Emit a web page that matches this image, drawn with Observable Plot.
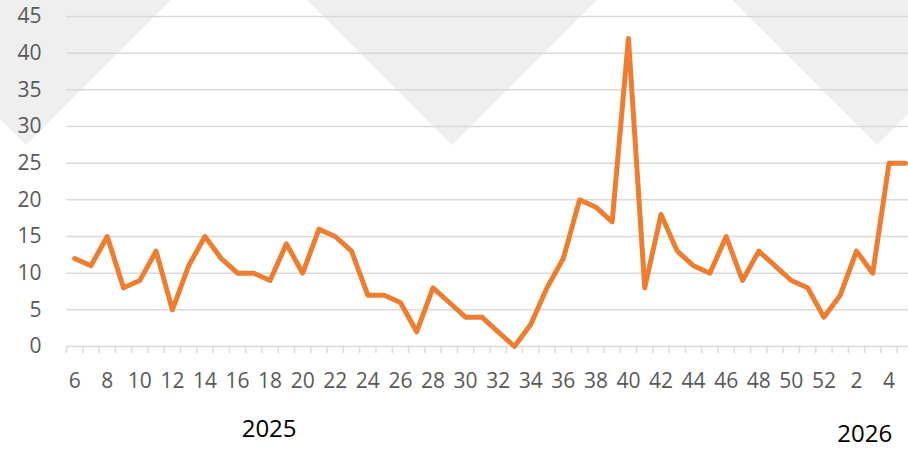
<!DOCTYPE html>
<html>
<head>
<meta charset="utf-8">
<script src="https://cdn.jsdelivr.net/npm/d3@7"></script>
<script src="https://cdn.jsdelivr.net/npm/@observablehq/plot@0.6"></script>
<style>
  html, body { margin: 0; padding: 0; background: #fff; }
  #chart { width: 908px; height: 451px; overflow: hidden; position: relative; background-repeat: no-repeat; }
</style>
</head>
<body>
<div id="chart"></div>
<script>
// Week numbers (ISO weeks): 2025 week 6 .. 52, then 2026 week 1 .. 5
const weeks = [6,7,8,9,10,11,12,13,14,15,16,17,18,19,20,21,22,23,24,25,26,27,28,29,30,31,32,33,34,35,36,37,38,39,40,41,42,43,44,45,46,47,48,49,50,51,52,1,2,3,4,5];
const years = ["2025","2025","2025","2025","2025","2025","2025","2025","2025","2025","2025","2025","2025","2025","2025","2025","2025","2025","2025","2025","2025","2025","2025","2025","2025","2025","2025","2025","2025","2025","2025","2025","2025","2025","2025","2025","2025","2025","2025","2025","2025","2025","2025","2025","2025","2025","2025","2026","2026","2026","2026","2026"];
const counts = [12,11,15,8,9,13,5,11,15,12,10,10,9,14,10,16,15,13,7,7,6,2,8,6,4,4,2,0,3,8,12,20,19,17,42,8,18,13,11,10,15,9,13,11,9,8,4,7,13,10,25,25];
const yTicks = [0,5,10,15,20,25,30,35,40,45];
// week labels shown on the axis (every other week)
const labeledWeeks = [6,8,10,12,14,16,18,20,22,24,26,28,30,32,34,36,38,40,42,44,46,48,50,52,2,4];
const labeledYears = ["2025","2025","2025","2025","2025","2025","2025","2025","2025","2025","2025","2025","2025","2025","2025","2025","2025","2025","2025","2025","2025","2025","2025","2025","2026","2026"];
// year group labels and the week each sits under
const yearLabels = ["2025", "2026"];
const yearLabelWeeks = [18, 3];

const indexOf = (w, y) => weeks.findIndex((wk, i) => wk === w && years[i] === y);
const data = counts.map((v, i) => ({i, week: weeks[i], year: years[i], value: v}));
const labelPos = labeledWeeks.map((w, k) => indexOf(w, labeledYears[k]) + 0.5);
const yearData = yearLabels.map((y, k) => ({year: y, x: indexOf(yearLabelWeeks[k], y) + 0.5}));

// light watermark chevrons in the background
const wm = `<svg xmlns='http://www.w3.org/2000/svg' width='908' height='451'><g fill='#efefef'><polygon points='-119,0 171,0 26,145'/><polygon points='307,0 597,0 452,145'/><polygon points='732,0 1022,0 877,145'/></g></svg>`;
document.getElementById("chart").style.backgroundImage = `url("data:image/svg+xml,${encodeURIComponent(wm)}")`;

const plot = Plot.plot({
  width: 913,
  height: 451,
  marginLeft: 66,
  marginRight: 0,
  marginTop: 16,
  marginBottom: 105,
  style: {background: "transparent", fontFamily: "'Open Sans', sans-serif", maxWidth: "none", overflow: "visible"},
  x: {type: "linear", domain: [0, weeks.length], label: null},
  y: {domain: [0, 45], label: null},
  marks: [
    Plot.gridY({ticks: yTicks.filter(t => t > 0), stroke: "#d9d9d9", strokeOpacity: 1, strokeWidth: 1.5}),
    Plot.ruleY([0], {stroke: "#d9d9d9", strokeWidth: 1.5}),
    Plot.axisX({ticks: d3.range(0, weeks.length + 1), tickSize: 7, tickFormat: () => "", stroke: "#d9d9d9", strokeWidth: 1.5, label: null}),
    Plot.axisX({ticks: labelPos, tickSize: 0, tickPadding: 27, tickFormat: p => weeks[Math.floor(p)], fontSize: 21, fill: "#595959", label: null}),
    Plot.axisY({ticks: yTicks, tickSize: 0, tickPadding: 25, fontSize: 21, fill: "#595959", label: null}),
    Plot.line(data, {x: d => d.i + 0.5, y: "value", stroke: "#ED7D31", strokeWidth: 5, strokeLinejoin: "round", strokeLinecap: "round"}),
    Plot.text(yearData.slice(0, 1), {x: "x", y: () => 0, text: "year", fontSize: 24, fill: "#000", lineAnchor: "middle", dy: 83, dx: -1}),
    Plot.text(yearData.slice(1), {x: "x", y: () => 0, text: "year", fontSize: 24, fill: "#000", lineAnchor: "middle", dy: 88, dx: -8})
  ]
});
document.getElementById("chart").appendChild(plot);
</script>
</body>
</html>
